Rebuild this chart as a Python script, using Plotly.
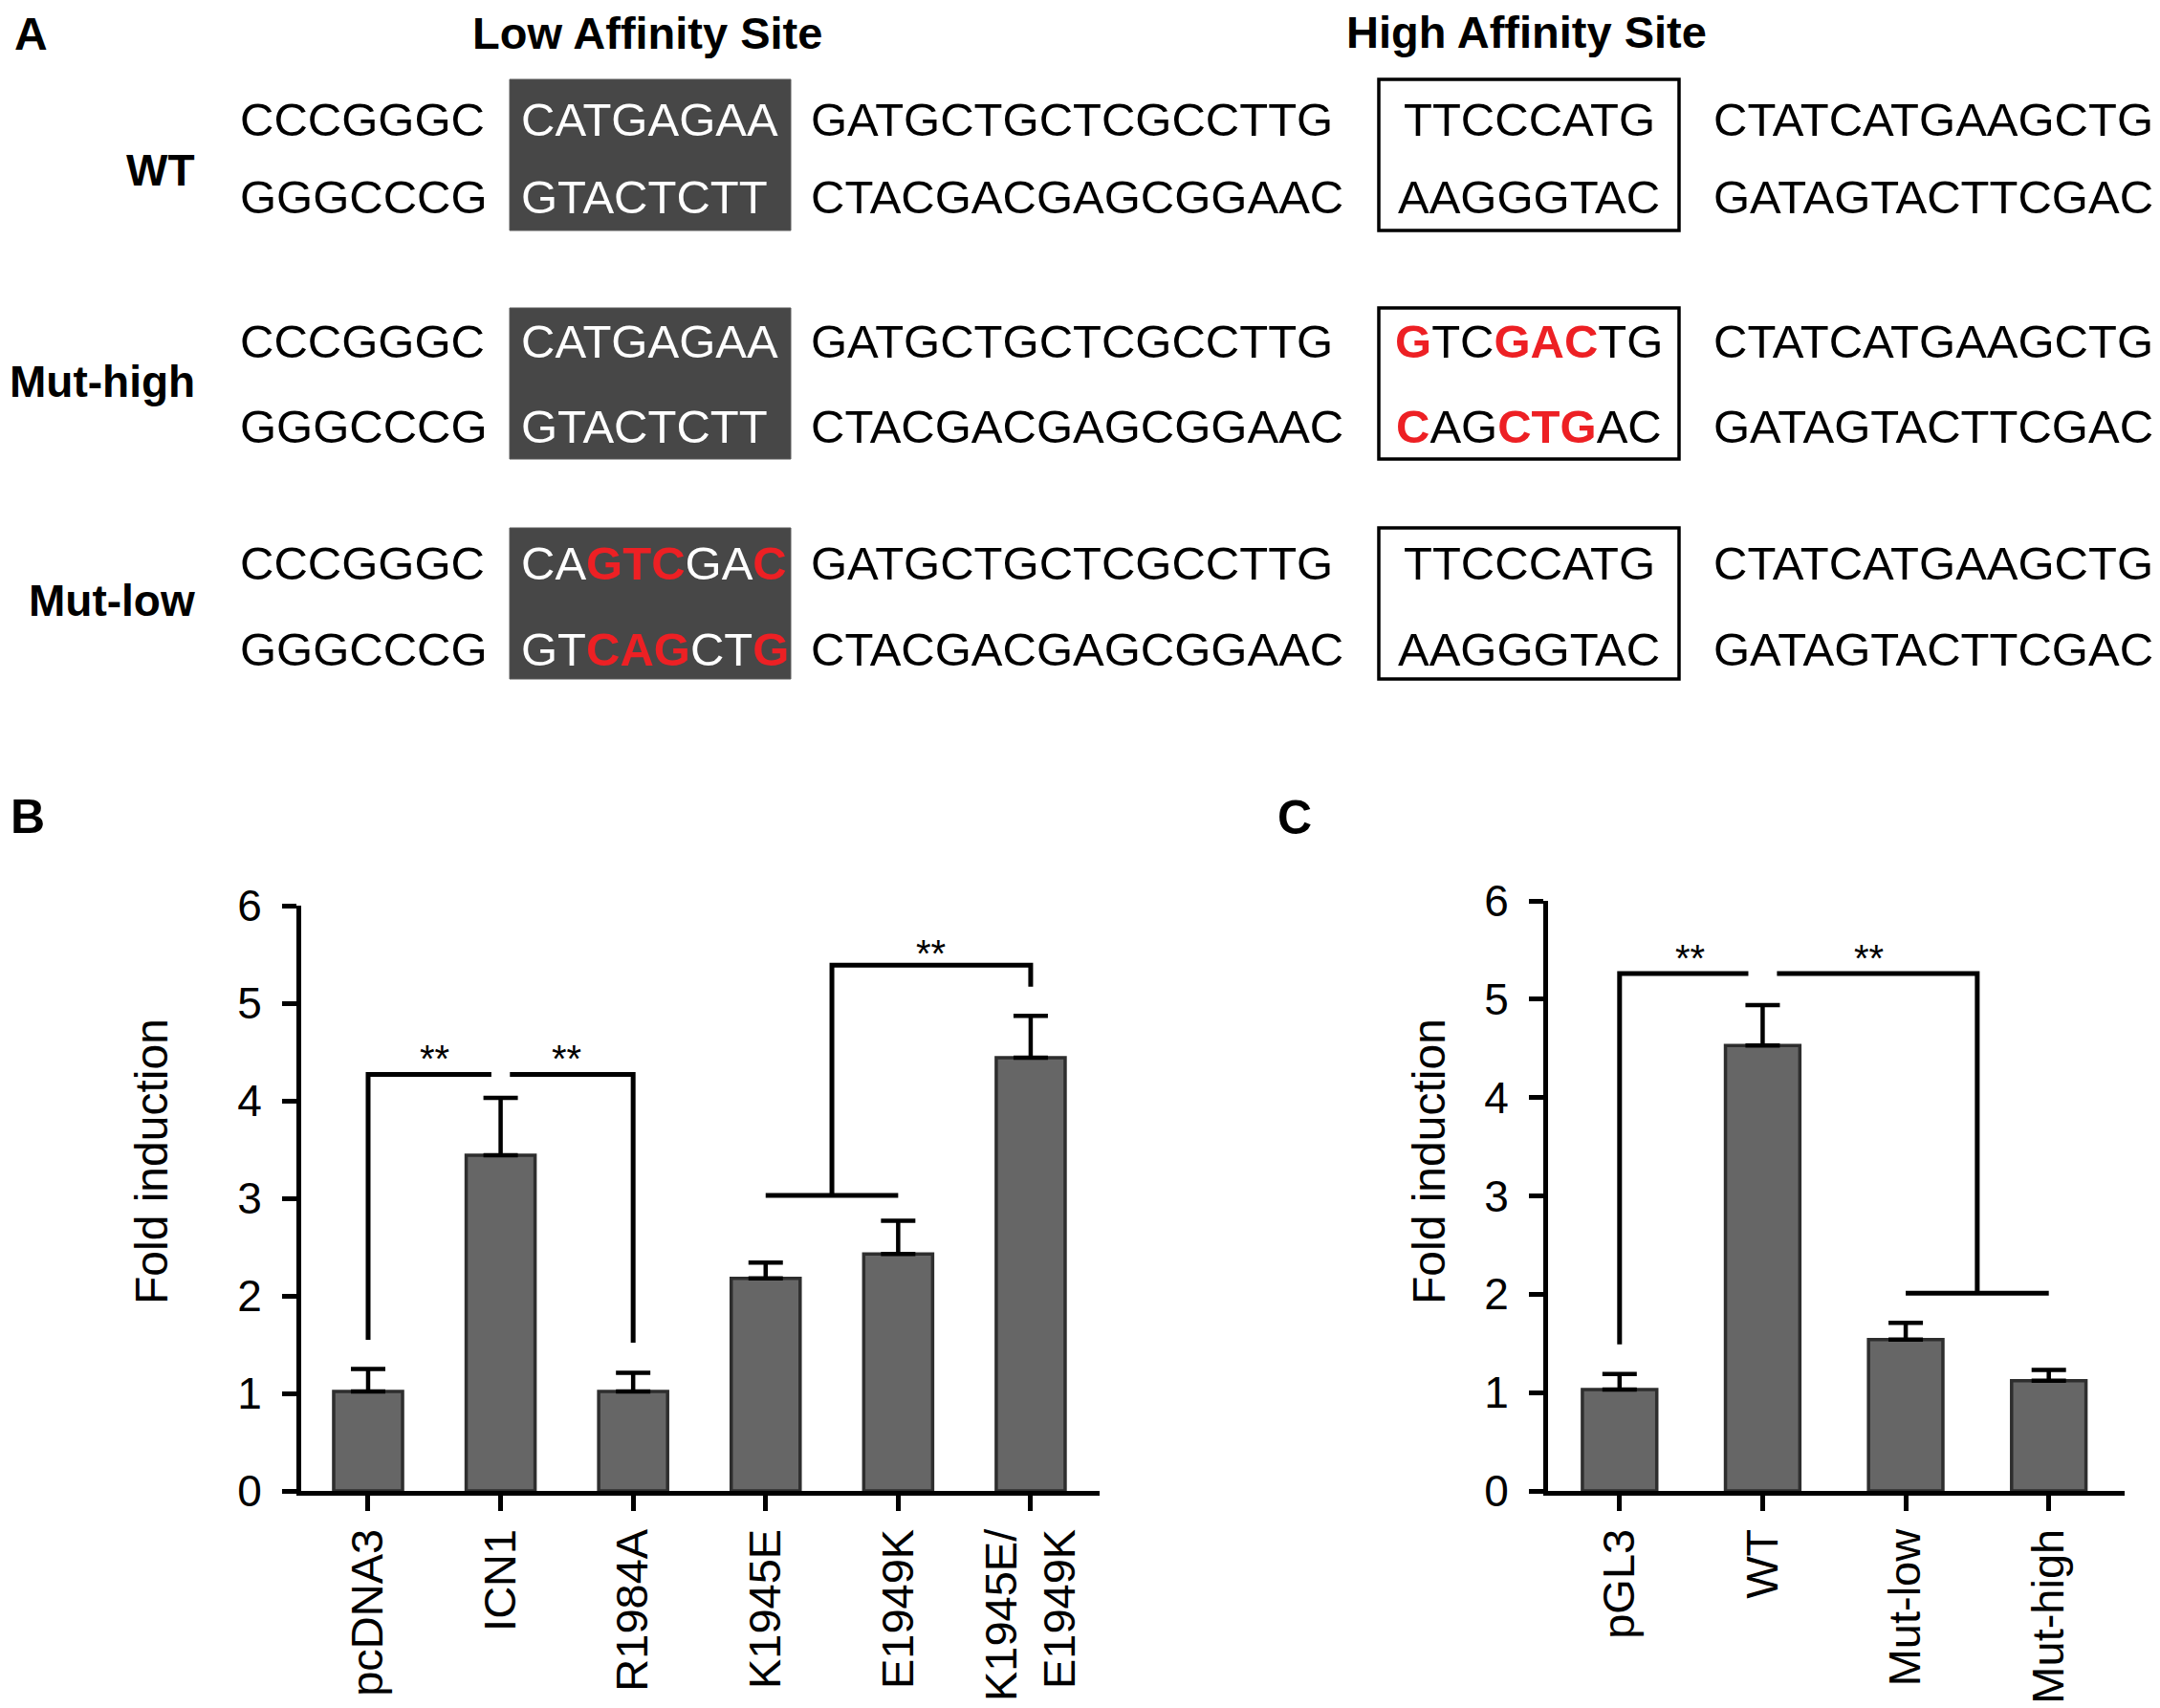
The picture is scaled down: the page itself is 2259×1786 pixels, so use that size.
import plotly.graph_objects as go

W, H = 2259, 1786
PAGE_MARGIN = 8  # default body margin of the written page
FONT = "Liberation Sans, Arial, Helvetica, sans-serif"
RED = "#ed2024"

# ---- panel A data ----
row_names = ["WT", "Mut-high", "Mut-low"]
flank_left = ["CCCGGGC", "GGGCCCG"]
low_site_top = ["CATGAGAA", "CATGAGAA", "CAGTCGAC"]
low_site_bottom = ["GTACTCTT", "GTACTCTT", "GTCAGCTG"]
spacer = ["GATGCTGCTCGCCTTG", "CTACGACGAGCGGAAC"]
high_site_top = ["TTCCCATG", "GTCGACTG", "TTCCCATG"]
high_site_bottom = ["AAGGGTAC", "CAGCTGAC", "AAGGGTAC"]
flank_right = ["CTATCATGAAGCTG", "GATAGTACTTCGAC"]

# ---- panel B data ----
b_labels = ["pcDNA3", "ICN1", "R1984A", "K1945E", "E1949K", "K1945E/<br>E1949K"]
b_values = [1.02, 3.44, 1.02, 2.18, 2.43, 4.44]
b_errors = [0.23, 0.59, 0.19, 0.16, 0.34, 0.43]
b_brackets = [
    [(0, 1.55), (0, 4.27), (0.93, 4.27)],
    [(1.07, 4.27), (2, 4.27), (2, 1.52)],
    [(3, 3.03), (4, 3.03)],
    [(3.5, 3.03), (3.5, 5.39), (5, 5.39), (5, 5.17)],
]
b_stars = [(0.5, 4.51), (1.5, 4.51), (4.25, 5.59)]

# ---- panel C data ----
c_labels = ["pGL3", "WT", "Mut-low", "Mut-high"]
c_values = [1.03, 4.53, 1.54, 1.12]
c_errors = [0.16, 0.41, 0.17, 0.11]
c_brackets = [
    [(0, 1.49), (0, 5.26), (0.9, 5.26)],
    [(1.1, 5.26), (2.5, 5.26), (2.5, 2.01)],
    [(2, 2.01), (3, 2.01)],
]
c_stars = [(0.49, 5.5), (1.74, 5.5)]

y_ticks = [0, 1, 2, 3, 4, 5, 6]

FIG_W, FIG_H = W - PAGE_MARGIN, H - PAGE_MARGIN


def px(x):
    return (x - PAGE_MARGIN) / FIG_W


def py(y):
    return 1 - (y - PAGE_MARGIN) / FIG_H


def mark_mutations(seq, ref):
    out = ""
    for s, r in zip(seq, ref):
        if s != r:
            out += f'<span style="color:{RED}"><b>{s}</b></span>'
        else:
            out += s
    return out


annotations = []
shapes = []


def text(x, y, s, size, bold=False, color="black", xanchor="center", angle=0):
    annotations.append(dict(
        x=px(x), y=py(y), xref="paper", yref="paper",
        text=f"<b>{s}</b>" if bold else s,
        showarrow=False, xanchor=xanchor, yanchor="middle",
        textangle=angle,
        font=dict(family=FONT, size=size, color=color),
    ))


# panel letters and headers
text(32, 36, "A", 48, bold=True)
text(29, 854, "B", 50, bold=True)
text(1354, 855, "C", 50, bold=True)
text(677, 34, "Low Affinity Site", 47, bold=True)
text(1596, 33, "High Affinity Site", 47, bold=True)

row_text_y = [(125, 206), (357, 446), (589, 679)]
row_label_y = [178, 399, 628]
box_y = [(83, 241), (322, 480), (552, 710)]
SEQ = 49

for i, name in enumerate(row_names):
    text(206, row_label_y[i], name, 46, bold=True, xanchor="right")
    y0, y1 = box_y[i]
    shapes.append(dict(type="rect", xref="paper", yref="paper",
                       x0=px(533), x1=px(827), y0=py(y1), y1=py(y0),
                       fillcolor="#474747", line=dict(color="#5a5a5a", width=1)))
    shapes.append(dict(type="rect", xref="paper", yref="paper",
                       x0=px(1442), x1=px(1756), y0=py(y1), y1=py(y0),
                       fillcolor="rgba(0,0,0,0)", line=dict(color="black", width=3.5)))
    ty, by = row_text_y[i]
    text(249, ty, flank_left[0], SEQ, xanchor="left")
    text(249, by, flank_left[1], SEQ, xanchor="left")
    text(543, ty, mark_mutations(low_site_top[i], low_site_top[0]), SEQ,
         color="white", xanchor="left")
    text(543, by, mark_mutations(low_site_bottom[i], low_site_bottom[0]), SEQ,
         color="white", xanchor="left")
    text(846, ty, spacer[0], SEQ, xanchor="left")
    text(846, by, spacer[1], SEQ, xanchor="left")
    text(1599, ty, mark_mutations(high_site_top[i], high_site_top[0]), SEQ)
    text(1599, by, mark_mutations(high_site_bottom[i], high_site_bottom[0]), SEQ)
    text(1790, ty, flank_right[0], SEQ, xanchor="left")
    text(1790, by, flank_right[1], SEQ, xanchor="left")

# y axis titles
text(158, 1215, "Fold induction", 48, angle=-90)
text(1494, 1215, "Fold induction", 48, angle=-90)

fig = go.Figure()


def add_panel(labels, values, errors, brackets, stars, xa, ya):
    fig.add_trace(go.Bar(
        x=list(range(len(labels))), y=values, width=0.52,
        marker=dict(color="#666666", line=dict(color="#2e2e2e", width=3.5)),
        error_y=dict(type="data", symmetric=False, array=errors,
                     arrayminus=[0] * len(errors), color="black",
                     thickness=4.5, width=18),
        xaxis=xa, yaxis=ya, hoverinfo="skip", showlegend=False,
    ))
    for path in brackets:
        fig.add_trace(go.Scatter(
            x=[p[0] for p in path], y=[p[1] for p in path], mode="lines",
            line=dict(color="black", width=5), xaxis=xa, yaxis=ya,
            hoverinfo="skip", showlegend=False,
        ))
    for sx, sy in stars:
        annotations.append(dict(
            x=sx, y=sy - 0.08, xref=xa, yref=ya, text="**", showarrow=False,
            xanchor="center", yanchor="middle",
            font=dict(family=FONT, size=40, color="black"),
        ))


add_panel(b_labels, b_values, b_errors, b_brackets, b_stars, "x", "y")
add_panel(c_labels, c_values, c_errors, c_brackets, c_stars, "x2", "y2")

axis_common = dict(
    showline=True, linewidth=5, linecolor="black", showgrid=False,
    zeroline=False, ticks="outside", tickwidth=4.5, tickcolor="black",
    automargin=False,
)

fig.update_layout(
    template="none",
    width=FIG_W, height=FIG_H,
    margin=dict(l=0, r=0, t=0, b=0, pad=0),
    paper_bgcolor="white", plot_bgcolor="white",
    font=dict(family=FONT, color="black"),
    annotations=annotations, shapes=shapes,
    xaxis=dict(domain=[px(315), px(1150)], range=[-0.505, 5.52],
               tickvals=list(range(len(b_labels))), ticktext=b_labels,
               tickangle=-90, ticklen=16, ticklabelstandoff=0,
               tickfont=dict(size=47), anchor="y", **axis_common),
    yaxis=dict(domain=[py(1559), py(947)], range=[0, 6], tickvals=y_ticks,
               ticklen=15, ticklabelstandoff=12, tickfont=dict(size=46),
               anchor="x", **axis_common),
    xaxis2=dict(domain=[px(1619), px(2222)], range=[-0.5, 3.53],
                tickvals=list(range(len(c_labels))), ticktext=c_labels,
                tickangle=-90, ticklen=16, ticklabelstandoff=0,
                tickfont=dict(size=47), anchor="y2", **axis_common),
    yaxis2=dict(domain=[py(1559), py(942)], range=[0, 6], tickvals=y_ticks,
                ticklen=15, ticklabelstandoff=12, tickfont=dict(size=46),
                anchor="x2", **axis_common),
)

fig.write_html("out.html")
